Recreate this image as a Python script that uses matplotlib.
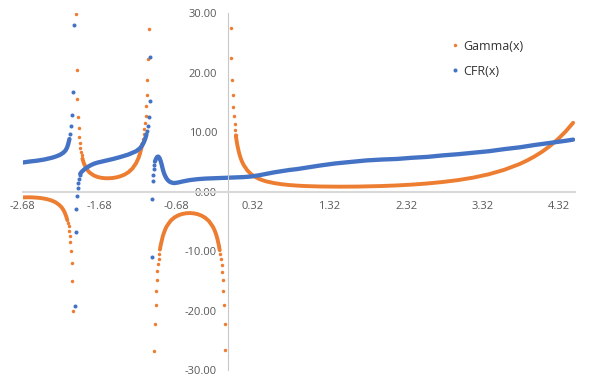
import numpy as np
import matplotlib
matplotlib.use('Agg')
import matplotlib.pyplot as plt

plt.rcParams['font.family'] = ['Open Sans', 'DejaVu Sans']

nan = float('nan')

# --- Gamma(x): dense part of the trace (nan = break at a pole) ---
gamma_x = [-2.68, -2.65, -2.6, -2.55, -2.5, -2.45, -2.4, -2.35, -2.3, -2.25,
           -2.2, -2.17, -2.15, -2.13, -2.11, -2.10, nan,
           -1.9, -1.88, -1.85, -1.82, -1.8, -1.75, -1.7, -1.65, -1.6, -1.55,
           -1.5, -1.45, -1.4, -1.35, -1.3, -1.25, -1.2, -1.17, -1.15, -1.13,
           -1.12, nan,
           -0.89, -0.88, -0.85, -0.82, -0.8, -0.75, -0.7, -0.65, -0.6, -0.55,
           -0.5, -0.45, -0.4, -0.35, -0.3, -0.25, -0.2, -0.18, -0.16, -0.14,
           -0.12, -0.11, nan,
           0.1, 0.11, 0.12, 0.14, 0.16, 0.18, 0.2, 0.25, 0.3, 0.35, 0.4, 0.45,
           0.5, 0.6, 0.7, 0.8, 0.9, 1.0, 1.2, 1.45, 1.7, 2.0, 2.2, 2.4, 2.6,
           2.8, 3.0, 3.2, 3.4, 3.6, 3.8, 3.9, 4.0, 4.1, 4.2, 4.3, 4.4, 4.5]
gamma_y = [-0.91, -0.90, -0.89, -0.91, -0.95, -1.01, -1.11, -1.25, -1.45, -1.74,
           -2.21, -2.62, -3.00, -3.50, -4.18, -4.63, nan,
           5.56, 4.75, 3.96, 3.44, 3.19, 2.76, 2.51, 2.37, 2.31, 2.31,
           2.36, 2.48, 2.66, 2.93, 3.33, 3.92, 4.85, 5.69, 6.45, 7.45,
           8.08, nan,
           -9.68, -8.94, -7.32, -6.26, -5.74, -4.83, -4.27, -3.92, -3.70, -3.58,
           -3.54, -3.59, -3.72, -3.96, -4.33, -4.90, -5.82, -6.35, -7.01, -7.88,
           -9.04, -9.79, nan,
           9.51, 8.61, 7.86, 6.69, 5.81, 5.13, 4.59, 3.63, 2.99, 2.55, 2.22, 1.97,
           1.77, 1.49, 1.30, 1.16, 1.07, 1.00, 0.92, 0.89, 0.91, 1.00, 1.10, 1.24, 1.43,
           1.68, 2.00, 2.42, 2.98, 3.72, 4.69, 5.30, 6.00, 6.81, 7.76, 8.86, 10.14, 11.63]

# --- Gamma(x): separate dots near the poles ---
gamma_dot_x = [-2.0965, -2.0885, -2.0805, -2.0725, -2.0645, -2.0565, -2.0485, -2.0405, -2.0325, -2.0245,
               -1.983, -1.975, -1.967, -1.959, -1.951, -1.943, -1.935, -1.927, -1.919, -1.911, -1.903,
               -1.108, -1.100, -1.092, -1.084, -1.076, -1.068, -1.060, -1.052, -1.044, -1.036,
               -0.962, -0.954, -0.946, -0.938, -0.930, -0.922, -0.914, -0.906, -0.898,
               -0.1025, -0.0945, -0.0865, -0.0785, -0.0705, -0.0625, -0.0545, -0.0465, -0.0385,
               0.0355, 0.0435, 0.0515, 0.0595, 0.0675, 0.0755, 0.0835, 0.0915, 0.0995]
gamma_dot_y = [-4.78, -5.24, -5.80, -6.48, -7.33, -8.42, -9.88, -11.91, -14.94, -19.96,
               29.88, 20.48, 15.63, 12.68, 10.70, 9.27, 8.20, 7.36, 6.69, 6.15, 5.69,
               8.98, 9.72, 10.57, 11.59, 12.83, 14.37, 16.32, 18.85, 22.34, 27.39,
               -26.79, -22.23, -19.02, -16.65, -14.81, -13.36, -12.18, -11.21, -10.39,
               -10.44, -11.25, -12.22, -13.39, -14.83, -16.64, -18.98, -22.13, -26.59,
               27.63, 22.45, 18.89, 16.29, 14.30, 12.74, 11.48, 10.44, 9.57]

# --- CFR(x): dense part of the trace ---
cfr_x = [-2.68, -2.6, -2.5, -2.4, -2.3, -2.25, -2.2, -2.15, -2.12, -2.10, -2.085, -2.07, nan,
         -1.93, -1.91, -1.88, -1.85, -1.8, -1.75, -1.7, -1.6, -1.5, -1.4, -1.3, -1.2,
         -1.15, -1.12, -1.10, -1.08, -1.065, nan,
         -0.955, -0.94, -0.925, -0.91, -0.895, -0.88, -0.865, -0.85, -0.835, -0.82,
         -0.80, -0.78, -0.76, -0.73, -0.70, -0.65, -0.6, -0.5, -0.4, -0.3, -0.2,
         -0.1, 0.0, 0.1, 0.2, 0.3, 0.4, 0.5, 0.6, 0.7, 0.8, 0.9, 1.0, 1.2, 1.4,
         1.6, 1.8, 2.0, 2.2, 2.4, 2.6, 2.8, 3.0, 3.2, 3.4, 3.6, 3.8, 4.0, 4.2,
         4.4, 4.5]
cfr_y = [4.95, 5.10, 5.25, 5.45, 5.75, 5.95, 6.20, 6.60, 7.00, 7.50, 8.10, 8.90, nan,
         3.05, 3.40, 3.75, 4.05, 4.45, 4.75, 4.95, 5.25, 5.55, 5.90, 6.30, 6.85,
         7.35, 7.85, 8.35, 9.00, 9.70, nan,
         5.10, 5.60, 5.90, 5.95, 5.70, 5.20, 4.50, 3.70, 3.10, 2.65,
         2.20, 1.90, 1.70, 1.55, 1.50, 1.60, 1.75, 2.00, 2.15, 2.25, 2.30,
         2.35, 2.40, 2.45, 2.50, 2.60, 2.80, 3.05, 3.30, 3.50, 3.70, 3.85, 4.05, 4.45, 4.80,
         5.05, 5.30, 5.45, 5.55, 5.75, 5.90, 6.15, 6.35, 6.60, 6.85, 7.20, 7.50, 7.90, 8.25,
         8.60, 8.80]

# --- CFR(x): separate dots near the poles ---
cfr_dot_x = [-2.062, -2.050, -2.038, -2.026, -2.015,
             -2.000, -1.985, -1.979, -1.970, -1.962, -1.954, -1.946, -1.938,
             -1.052, -1.041, -1.031, -1.022, -1.013,
             -0.997, -0.991, -0.983, -0.975, -0.968, -0.962]
cfr_dot_y = [9.8, 11.1, 13.0, 16.8, 28.1,
             -19.2, -6.7, -2.8, -0.6, 0.6, 1.5, 2.2, 2.8,
             10.3, 11.1, 12.6, 15.3, 22.7,
             -10.9, -1.2, 1.8, 2.9, 3.9, 4.6]

x_ticks = [-2.68, -1.68, -0.68, 0.32, 1.32, 2.32, 3.32, 4.32]
y_ticks = [-30, -20, -10, 0, 10, 20, 30]

orange = '#ED7D31'
blue = '#4472C4'

fig = plt.figure(figsize=(6, 3.84), dpi=100)
ax = fig.add_axes([0.0378, 0.0352, 0.92, 0.9297])

ax.plot(gamma_x, gamma_y, color=orange, lw=2.8, solid_capstyle='round', solid_joinstyle='round')
ax.plot(gamma_dot_x, gamma_dot_y, 'o', ms=2.5, color=orange, mew=0, label='Gamma(x)')
ax.plot(cfr_x, cfr_y, color=blue, lw=3.1, solid_capstyle='round', solid_joinstyle='round')
ax.plot(cfr_dot_x, cfr_dot_y, 'o', ms=2.9, color=blue, mew=0, label='CFR(x)')

ax.set_xlim(-2.68, 4.52)
ax.set_ylim(-30, 30)

for s in ['top', 'right']:
	ax.spines[s].set_visible(False)
ax.spines['left'].set_position(('data', 0))
ax.spines['bottom'].set_position(('data', 0))
ax.spines['bottom'].set_color('#d9d9d9')
ax.spines['bottom'].set_linewidth(1.5)
ax.spines['left'].set_color('#c8c8c8')
ax.spines['left'].set_linewidth(0.8)

ax.set_xticks(x_ticks)
ax.set_xticklabels(['{:.2f}'.format(t) for t in x_ticks])
ax.set_yticks(y_ticks)
ax.set_yticklabels(['{:.2f}'.format(t) for t in y_ticks])
ax.tick_params(axis='both', length=0, labelsize=8, labelcolor='#595959')
ax.tick_params(axis='x', pad=6.5)
ax.tick_params(axis='y', pad=8)

leg = ax.legend(loc='upper left', bbox_to_anchor=(0.752, 0.897),
	bbox_transform=fig.transFigure, frameon=False,
	prop={'size': 9}, handlelength=0.6, handletextpad=0.4,
	labelspacing=0.98, borderpad=0, borderaxespad=0, markerscale=1.0)
for t in leg.get_texts():
	t.set_color('#333333')

fig.savefig('out.png', dpi=100)
